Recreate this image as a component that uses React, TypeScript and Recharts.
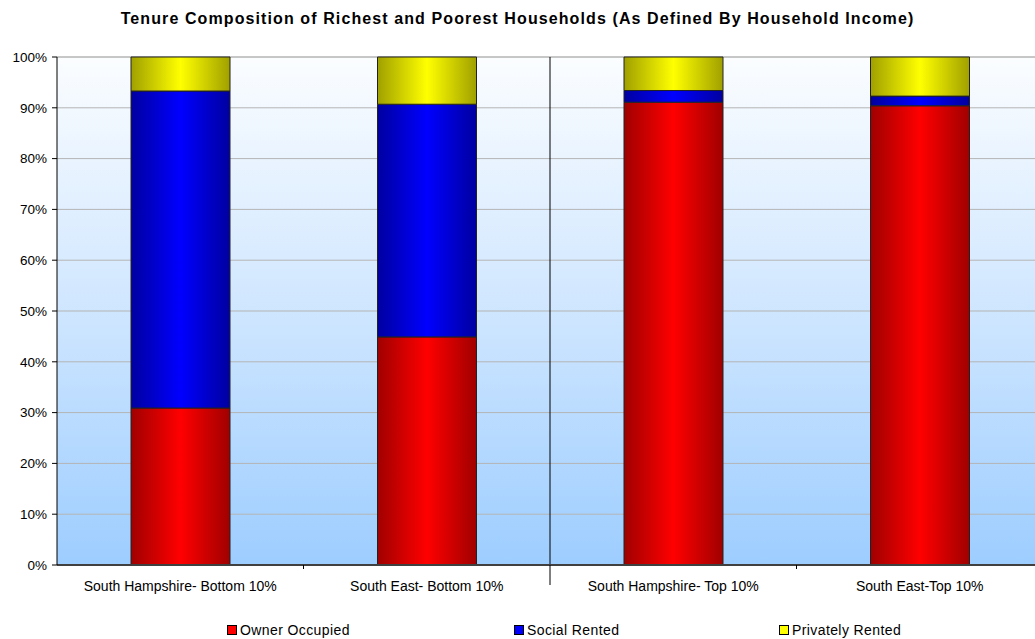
import { BarChart, Bar, XAxis, YAxis, CartesianGrid, ReferenceLine } from 'recharts'

const categories = [
  'South Hampshire- Bottom 10%',
  'South East- Bottom 10%',
  'South Hampshire- Top 10%',
  'South East-Top 10%',
]
const ownerOccupied = [30.9, 44.9, 91.1, 90.4]
const socialRented = [62.4, 45.8, 2.3, 1.9]
const privatelyRented = [6.7, 9.3, 6.6, 7.7]
const yTicks = [0, 10, 20, 30, 40, 50, 60, 70, 80, 90, 100]
const boundaryTicks = [1, 2, 3]

const SERIES = [
  { key: 'owner', name: 'Owner Occupied', dark: '#a00000', light: '#ff0000', swatch: '#ff0000' },
  { key: 'social', name: 'Social Rented', dark: '#0000a0', light: '#0000ff', swatch: '#0000ff' },
  { key: 'private', name: 'Privately Rented', dark: '#a0a000', light: '#ffff00', swatch: '#ffff00' },
]

// slot = category index + 0.5, so the helper number axis lines up with the bands
const data = categories.map((name, i) => ({
  name,
  slot: i + 0.5,
  owner: ownerOccupied[i],
  social: socialRented[i],
  private: privatelyRented[i],
}))

const FONT = '"Liberation Sans", Arial, sans-serif'

function BoundaryTick(props: any) {
  const { x, y, payload } = props
  const len = payload.value === 2 ? 20 : 4
  return (
    <g>
      <line x1={x} x2={x} y1={y} y2={y + len} stroke="#000" strokeWidth={1} />
    </g>
  )
}

const legendLeft = [227, 514, 779]

export default function App() {
  return (
    <div
      style={{
        position: 'absolute',
        left: 0,
        top: 0,
        width: 1035,
        height: 639,
        overflow: 'hidden',
        background: '#fff',
        fontFamily: FONT,
      }}
    >
      <div
        style={{
          position: 'absolute',
          top: 10,
          left: 0,
          width: 1035,
          textAlign: 'center',
          fontWeight: 'bold',
          fontSize: 16,
          letterSpacing: 1.1,
          lineHeight: '18px',
        }}
      >
        Tenure Composition of Richest and Poorest Households (As Defined By Household Income)
      </div>
      <BarChart
        width={1050}
        height={639}
        data={data}
        margin={{ top: 57, right: 7, left: 0, bottom: 43 }}
        style={{ position: 'absolute', left: 0, top: 0 }}
      >
        <defs>
          <linearGradient id="plotBg" x1="0" y1="0" x2="0" y2="1">
            <stop offset="0%" stopColor="#fbfdff" />
            <stop offset="50%" stopColor="#cfe6ff" />
            <stop offset="100%" stopColor="#9dcdff" />
          </linearGradient>
          {SERIES.map((s) => (
            <linearGradient key={s.key} id={`grad-${s.key}`} x1="0" y1="0" x2="1" y2="0">
              <stop offset="0%" stopColor={s.dark} />
              <stop offset="50%" stopColor={s.light} />
              <stop offset="100%" stopColor={s.dark} />
            </linearGradient>
          ))}
        </defs>
        <CartesianGrid
          vertical={false}
          stroke="#b4b4b4"
          fill="url(#plotBg)"
          fillOpacity={1}
        />
        <XAxis
          xAxisId="b"
          dataKey="slot"
          type="number"
          domain={[0, 4]}
          allowDataOverflow
          ticks={boundaryTicks}
          interval={0}
          height={1}
          axisLine={false}
          tickLine={false}
          tickSize={0}
          tickMargin={0}
          tick={BoundaryTick}
        />
        <XAxis
          xAxisId="cat"
          dataKey="name"
          height={30}
          axisLine={false}
          tickLine={false}
          tickSize={0}
          tickMargin={15}
          interval={0}
          tick={{ fill: '#000', fontSize: 14, fontFamily: FONT }}
        />
        <YAxis
          width={57}
          domain={[0, 100]}
          ticks={yTicks}
          interval={0}
          tickFormatter={(v) => `${v}%`}
          axisLine={{ stroke: '#000' }}
          tickLine={{ stroke: '#000' }}
          tickSize={5}
          tickMargin={5}
          tick={{ fill: '#000', fontSize: 13.5, fontFamily: FONT }}
        />
        <ReferenceLine xAxisId="b" x={2} stroke="#000" strokeWidth={1} />
        <ReferenceLine y={0} stroke="#404040" strokeWidth={2} />
        {SERIES.map((s) => (
          <Bar
            key={s.key}
            xAxisId="cat"
            dataKey={s.key}
            name={s.name}
            stackId="a"
            barSize={99}
            fill={`url(#grad-${s.key})`}
            stroke="#222"
            strokeWidth={1}
            isAnimationActive={false}
          />
        ))}
      </BarChart>
      {SERIES.map((s, i) => (
        <div
          key={s.key}
          style={{
            position: 'absolute',
            left: legendLeft[i],
            top: 622,
            fontSize: 14,
            letterSpacing: 0.4,
            lineHeight: '16px',
            display: 'flex',
            alignItems: 'center',
          }}
        >
          <span
            style={{
              display: 'inline-block',
              width: 8,
              height: 8,
              background: s.swatch,
              border: '1px solid #000',
              marginRight: 3,
            }}
          />
          {s.name}
        </div>
      ))}
    </div>
  )
}
